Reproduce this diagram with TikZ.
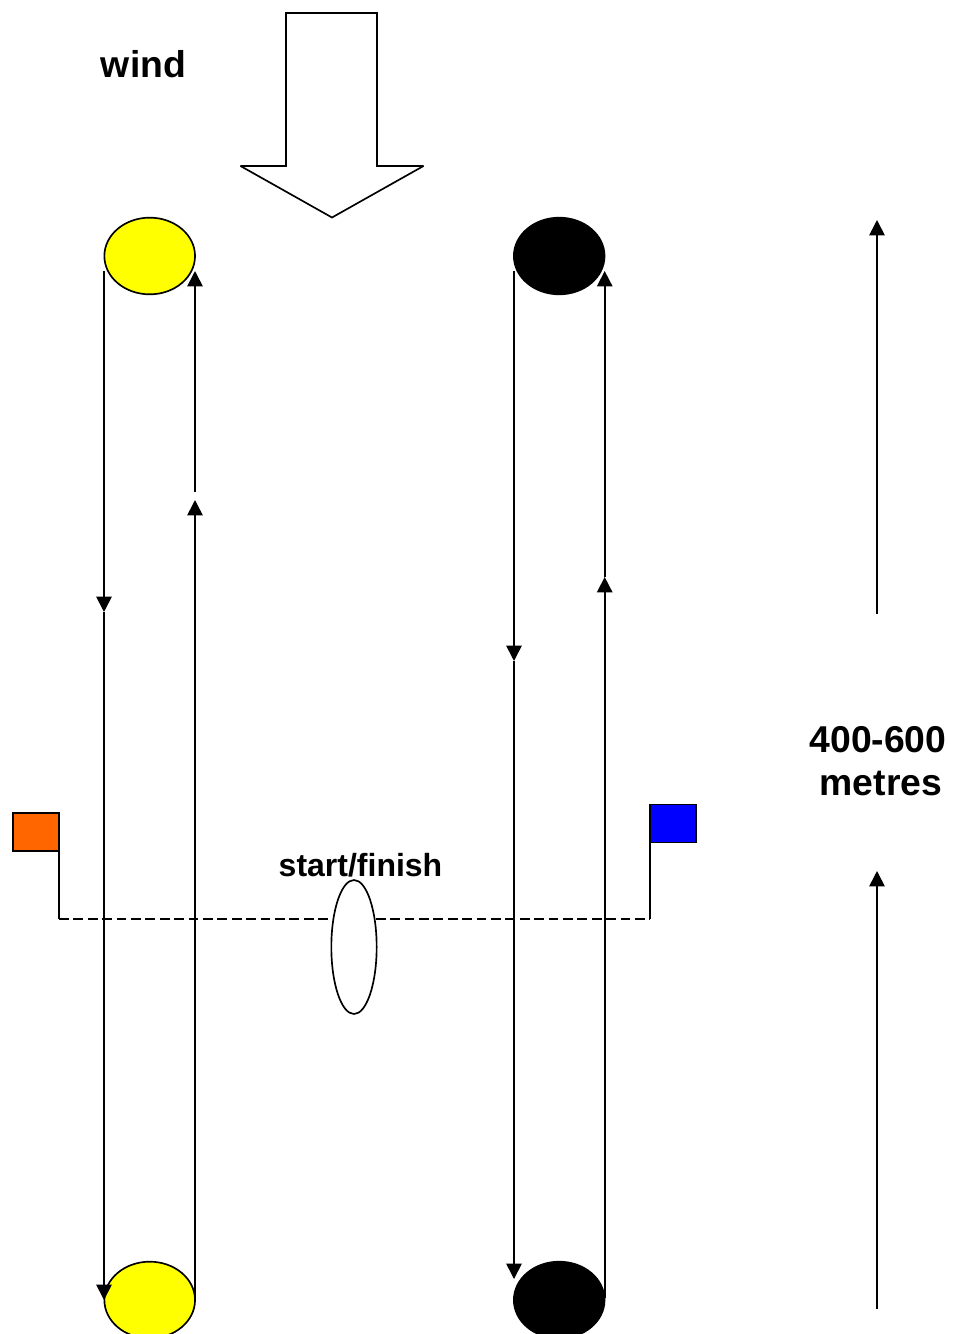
\documentclass[tikz,border=0pt]{standalone}
\usepackage{fontspec}
\setmainfont{Liberation Sans}
\usetikzlibrary{shapes.geometric, arrows.meta}
\definecolor{buoyyellow}{RGB}{255,255,0}
\definecolor{flagorange}{RGB}{255,102,0}
\definecolor{flagblue}{RGB}{0,0,255}
\tikzset{
  leg/.style={line width=1.25pt, -{Triangle[length=11.5pt, width=11.5pt]}},
  buoy/.style={ellipse, draw, line width=1.25pt, inner sep=0, outer sep=0, minimum width=68pt, minimum height=57.5pt},
  flag/.style={rectangle, draw, line width=1.25pt, inner sep=0, outer sep=0, minimum width=34.5pt, minimum height=28.5pt},
  lab/.style={font=\bfseries\fontsize{28}{32.5}\selectfont, align=center, inner sep=0},
}
\begin{document}
\begin{tikzpicture}[x=0.75pt, y=-0.75pt]
  \useasboundingbox (0,0) rectangle (955,1334);

  \node [buoy, fill=buoyyellow] at (149.7,256) (y1) {};
  \node [buoy, fill=buoyyellow] at (149.7,1300) (y2) {};
  \node [buoy, fill=black] at (559.2,256) (b1) {};
  \node [buoy, fill=black] at (559.2,1300) (b2) {};

  % wind arrow
  \draw [line width=1.25pt, miter limit=2] (286,13) -- (377,13) -- (377,166) -- (423.5,166)
    -- (332,217.5) -- (240.5,166) -- (286,166) -- cycle;
  \node [lab] at (143.5,64) (wind) {wind};

  % free ends of the legs
  \coordinate (a1) at (104,271);
  \coordinate (a2) at (104,612);
  \coordinate (a3) at (104,1300);
  \coordinate (c1) at (195,1298);
  \coordinate (c2) at (195,500);
  \coordinate (c3) at (195,492);
  \coordinate (c4) at (195,271);
  \coordinate (d1) at (514,271);
  \coordinate (d2) at (514,661);
  \coordinate (d3) at (514,1279);
  \coordinate (e1) at (604.7,1298);
  \coordinate (e2) at (604.7,577);
  \coordinate (e3) at (604.7,271);
  \coordinate (m1) at (877,614);
  \coordinate (m2) at (877,220);
  \coordinate (m3) at (877,1309);
  \coordinate (m4) at (877,871);

  \draw [leg] (a1) -- (a2);
  \draw [leg] (a2) -- (a3);
  \draw [leg] (c1) -- (c2);
  \draw [leg] (c3) -- (c4);
  \draw [leg] (d1) -- (d2);
  \draw [leg] (d2) -- (d3);
  \draw [leg] (e1) -- (e2);
  \draw [leg] (e2) -- (e3);
  \draw [leg] (m1) -- (m2);
  \draw [leg] (m3) -- (m4);

  % start line
  \node [flag, fill=flagorange] at (36,832) (f1) {};
  \node [flag, fill=flagblue] at (673,823.5) (f2) {};
  \coordinate (s1) at (59,919);
  \coordinate (s2) at (650,919);
  \draw [line width=1.25pt] (f1.south east) -- (s1);
  \draw [line width=1.25pt] (f2.south west) -- (s2);
  \draw [line width=1.25pt, dash pattern=on 7.4pt off 3.4pt] (s1) -- (s2);
  \node [ellipse, draw, fill=white, line width=1.25pt, inner sep=0, outer sep=0, minimum width=34pt, minimum height=100.5pt] at (354,947) (gate) {};

  \node [lab, font=\bfseries\fontsize{24}{28}\selectfont] at (360.5,865) (start) {start/finish};
  \node [lab] at (878,761) (dist) {400-600\\\hspace{4.5pt}metres};
\end{tikzpicture}
\end{document}
